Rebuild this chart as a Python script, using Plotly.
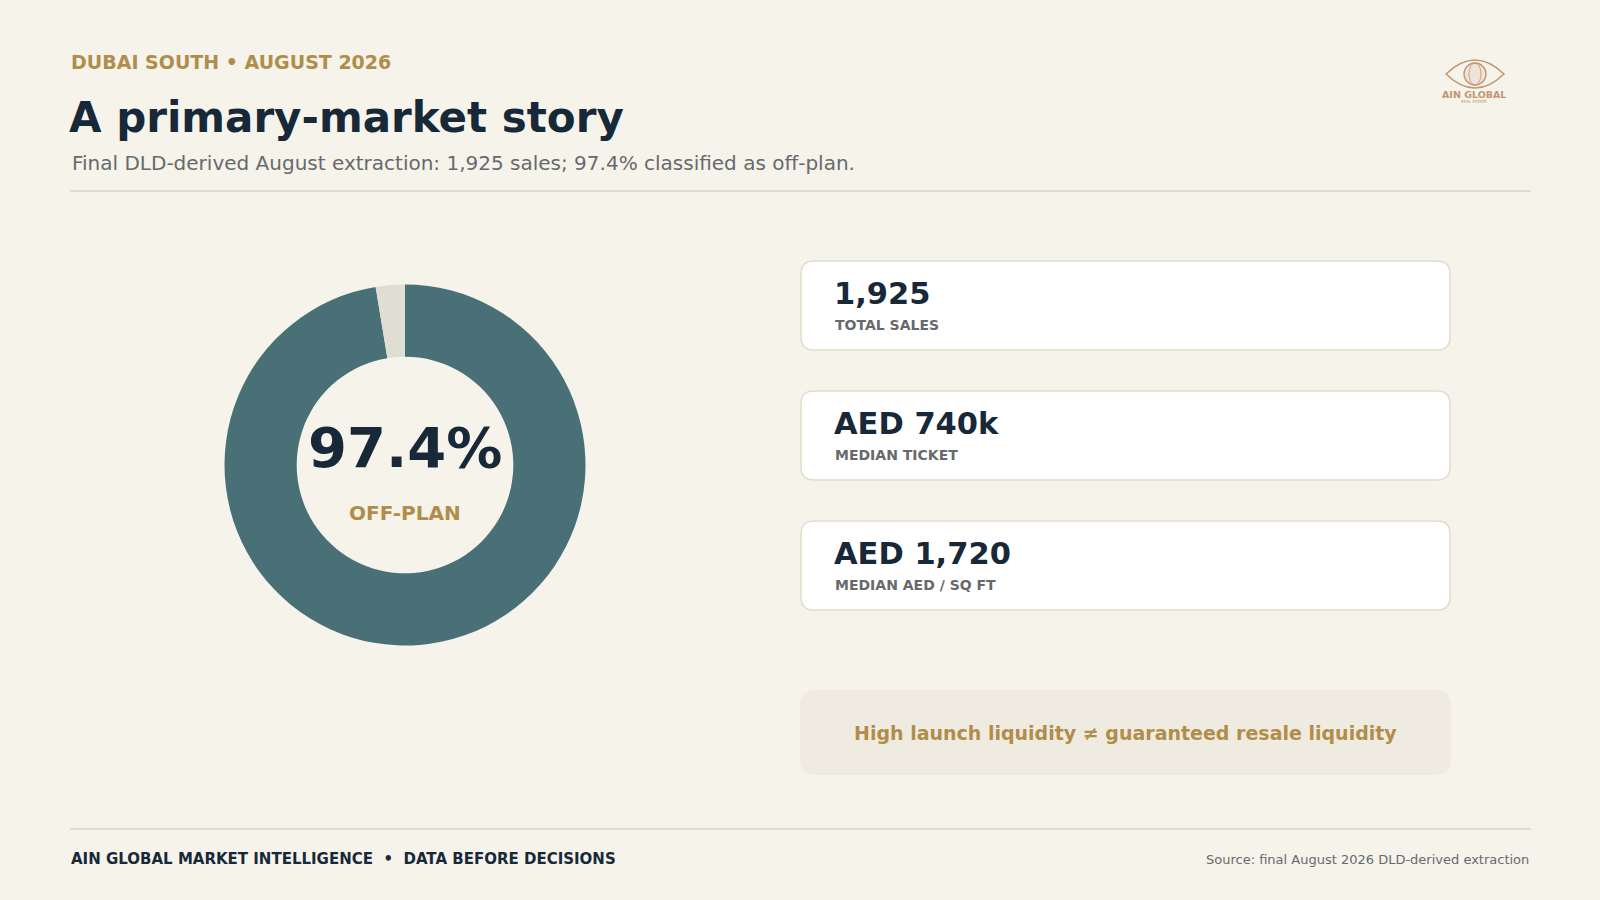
import plotly.graph_objects as go

# ---------------- data ----------------
segment_labels = ["Off-plan", "Ready"]
segment_values = [97.4, 2.6]
segment_colors = ["#4a7077", "#e0ddd2"]

kpi_values = ["1,925", "AED 740k", "AED 1,720"]
kpi_labels = ["TOTAL SALES", "MEDIAN TICKET", "MEDIAN AED / SQ FT"]

eyebrow = "DUBAI SOUTH • AUGUST 2026"
title = "A primary-market story"
subtitle = "Final DLD-derived August extraction: 1,925 sales; 97.4% classified as off-plan."
center_value = "97.4%"
center_label = "OFF-PLAN"
callout = "High launch liquidity ≠ guaranteed resale liquidity"
footer_left = "AIN GLOBAL MARKET INTELLIGENCE  •  DATA BEFORE DECISIONS"
footer_right = "Source: final August 2026 DLD-derived extraction"

# ---------------- style ----------------
W, H = 1600, 900
BG = "#f6f3eb"
NAVY = "#172838"
GOLD = "#b08d4a"
GRAY = "#666a6c"
LINE = "#e1ddcd"
FONT = "DejaVu Sans"

fig = go.Figure()

# donut
cx, cy, r = 405, 465, 180.5
fig.add_trace(go.Pie(
    labels=segment_labels, values=segment_values,
    marker=dict(colors=segment_colors, line=dict(width=0)),
    hole=0.6, sort=False, direction="clockwise", rotation=0,
    textinfo="none", hoverinfo="label+percent", showlegend=False,
    domain=dict(x=[(cx - r) / W, (cx + r) / W], y=[1 - (cy + r) / H, 1 - (cy - r) / H]),
))

# invisible pixel axes
fig.update_xaxes(range=[0, W], visible=False, domain=[0, 1], fixedrange=True)
fig.update_yaxes(range=[H, 0], visible=False, domain=[0, 1], fixedrange=True)
fig.add_trace(go.Scatter(x=[0, W], y=[0, H], mode="markers", marker=dict(opacity=0), hoverinfo="skip", showlegend=False))


def rrect(x0, y0, x1, y1, rad):
    return (f"M {x0+rad},{y0} L {x1-rad},{y0} Q {x1},{y0} {x1},{y0+rad} "
            f"L {x1},{y1-rad} Q {x1},{y1} {x1-rad},{y1} L {x0+rad},{y1} "
            f"Q {x0},{y1} {x0},{y1-rad} L {x0},{y0+rad} Q {x0},{y0} {x0+rad},{y0} Z")


shapes = []
annots = []


def text(x, y, s, size, color, bold=False, xanchor="left"):
    annots.append(dict(x=x, y=y, xref="x", yref="y", text=(f"<b>{s}</b>" if bold else s),
                       showarrow=False, xanchor=xanchor, yanchor="middle",
                       font=dict(family=FONT, size=size, color=color)))


# header
text(69, 62, eyebrow, 19, GOLD, bold=True)
text(67, 117, title, 42, NAVY, bold=True)
text(70, 163, subtitle, 20, GRAY)
shapes.append(dict(type="line", x0=70, x1=1531, y0=191, y1=191, xref="x", yref="y", line=dict(color=LINE, width=2)))

# center of donut
text(cx, 447, center_value, 56, NAVY, bold=True, xanchor="center")
text(cx, 513, center_label, 20, GOLD, bold=True, xanchor="center")

# KPI cards
card_tops = [261, 391, 521]
for top, v, lab in zip(card_tops, kpi_values, kpi_labels):
    shapes.append(dict(type="path", path=rrect(801, top, 1450, top + 89, 13), xref="x", yref="y",
                       fillcolor="#ffffff", line=dict(color=LINE, width=1.5), layer="below"))
    text(832, top + 32, v, 30.5, NAVY, bold=True)
    text(833, top + 64, lab, 14, GRAY, bold=True)

# callout
shapes.append(dict(type="path", path=rrect(800, 690, 1451, 775, 16), xref="x", yref="y",
                   fillcolor="#f0ebe0", line=dict(width=0), layer="below"))
text(1125, 733, callout, 19, GOLD, bold=True, xanchor="center")

# footer
shapes.append(dict(type="line", x0=70, x1=1531, y0=829, y1=829, xref="x", yref="y", line=dict(color=LINE, width=2)))
text(69, 859, footer_left, 15, NAVY, bold=True)
text(1531, 859, footer_right, 13, GRAY, xanchor="right")

# logo (simplified eye + globe mark)
COPPER = "#c3956f"
ex, ey, ew, eh = 1475, 74, 29, 14
shapes.append(dict(type="path", xref="x", yref="y",
                   path=f"M {ex-ew},{ey} Q {ex},{ey-2*eh} {ex+ew},{ey} Q {ex},{ey+2*eh} {ex-ew},{ey} Z",
                   line=dict(color=COPPER, width=1.5), fillcolor="rgba(0,0,0,0)"))
shapes.append(dict(type="circle", xref="x", yref="y", x0=ex - 11, x1=ex + 11, y0=ey - 11, y1=ey + 11,
                   line=dict(color=COPPER, width=1.3), fillcolor="rgba(195,149,111,0.15)"))
shapes.append(dict(type="circle", xref="x", yref="y", x0=ex - 6, x1=ex + 6, y0=ey - 11, y1=ey + 11,
                   line=dict(color=COPPER, width=0.8), fillcolor="rgba(0,0,0,0)"))
text(1474, 94, "AIN GLOBAL", 9.5, COPPER, bold=True, xanchor="center")
text(1474, 101, "REAL ESTATE", 4, COPPER, xanchor="center")

fig.update_layout(
    width=W, height=H, margin=dict(l=0, r=0, t=0, b=0),
    paper_bgcolor=BG, plot_bgcolor=BG,
    shapes=shapes, annotations=annots,
    font=dict(family=FONT), showlegend=False,
)

fig.write_html("out.html", config={"displayModeBar": False},
               post_script="document.body.style.margin='0';document.body.style.overflow='hidden';")
